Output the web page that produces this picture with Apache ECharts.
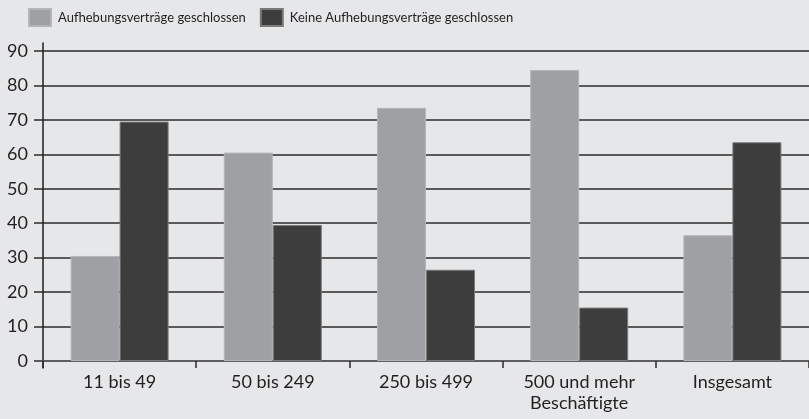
<!DOCTYPE html>
<html>
<head>
<meta charset="utf-8">
<script src="https://cdn.jsdelivr.net/npm/echarts@6/dist/echarts.min.js"></script>
<style>
  html, body { margin: 0; padding: 0; background: #e6e7e8; }
  #chart { width: 809px; height: 419px; }
</style>
</head>
<body>
<div id="chart"></div>
<script>
const categories = ['11 bis 49', '50 bis 249', '250 bis 499', '500 und mehr\nBeschäftigte', 'Insgesamt']
const seriesNames = ['Aufhebungsverträge geschlossen', 'Keine Aufhebungsverträge geschlossen']
const closed = [30.5, 60.5, 73.5, 84.5, 36.5]
const notClosed = [69.5, 39.5, 26.5, 15.5, 63.5]
const yTicks = [0, 90, 10]

const font = 'Lato'
const ink = '#231f20'

const chart = echarts.init(document.getElementById('chart'))
chart.setOption({
  backgroundColor: '#e6e7e8',
  animation: false,
  textStyle: { fontFamily: font, color: ink },
  legend: {
    left: 28,
    top: 8,
    padding: 0,
    itemWidth: 22,
    itemHeight: 17,
    itemGap: 14,
    icon: 'rect',
    textStyle: { fontFamily: font, fontSize: 13, color: ink, padding: [0, 0, 0, 2] },
    data: seriesNames,
  },
  grid: [
    { left: 43, top: 51, width: 768, bottom: 58 },
    { left: 43, top: 43, width: 768, bottom: 51 },
  ],
  xAxis: [
    {
      type: 'category',
      gridIndex: 0,
      data: categories,
      axisLine: { lineStyle: { color: '#5e5e60', width: 2 } },
      axisTick: { show: true, length: 7, lineStyle: { color: '#2b2b2b', width: 1.5 } },
      axisLabel: { fontFamily: font, fontSize: 18, color: ink, margin: 11, lineHeight: 21 },
    },
    { type: 'category', gridIndex: 1, data: categories, show: false },
  ],
  yAxis: [
    {
      type: 'value',
      gridIndex: 0,
      min: yTicks[0],
      max: yTicks[1],
      interval: yTicks[2],
      axisLine: { show: false },
      axisTick: { show: true, length: 9, lineStyle: { color: '#2b2b2b', width: 1.5 } },
      axisLabel: { fontFamily: font, fontSize: 18, color: ink, margin: 15 },
      splitLine: { lineStyle: { color: '#2b2b2b', width: 1.5 } },
    },
    {
      type: 'value',
      gridIndex: 1,
      axisLine: { show: true, lineStyle: { color: '#1e1e1e', width: 1.5 } },
      axisTick: { show: false },
      axisLabel: { show: false },
      splitLine: { show: false },
    },
  ],
  series: [
    {
      name: seriesNames[0],
      type: 'bar',
      data: closed,
      barWidth: 49,
      barGap: '0%',
      itemStyle: { color: '#9fa0a3', borderColor: '#b4b5b7', borderWidth: 1 },
      z: 3,
    },
    {
      name: seriesNames[1],
      type: 'bar',
      data: notClosed,
      barWidth: 49,
      barGap: '0%',
      itemStyle: { color: '#3d3d3d', borderColor: '#7a7a7a', borderWidth: 1 },
      z: 3,
    },
  ],
})
</script>
</body>
</html>
